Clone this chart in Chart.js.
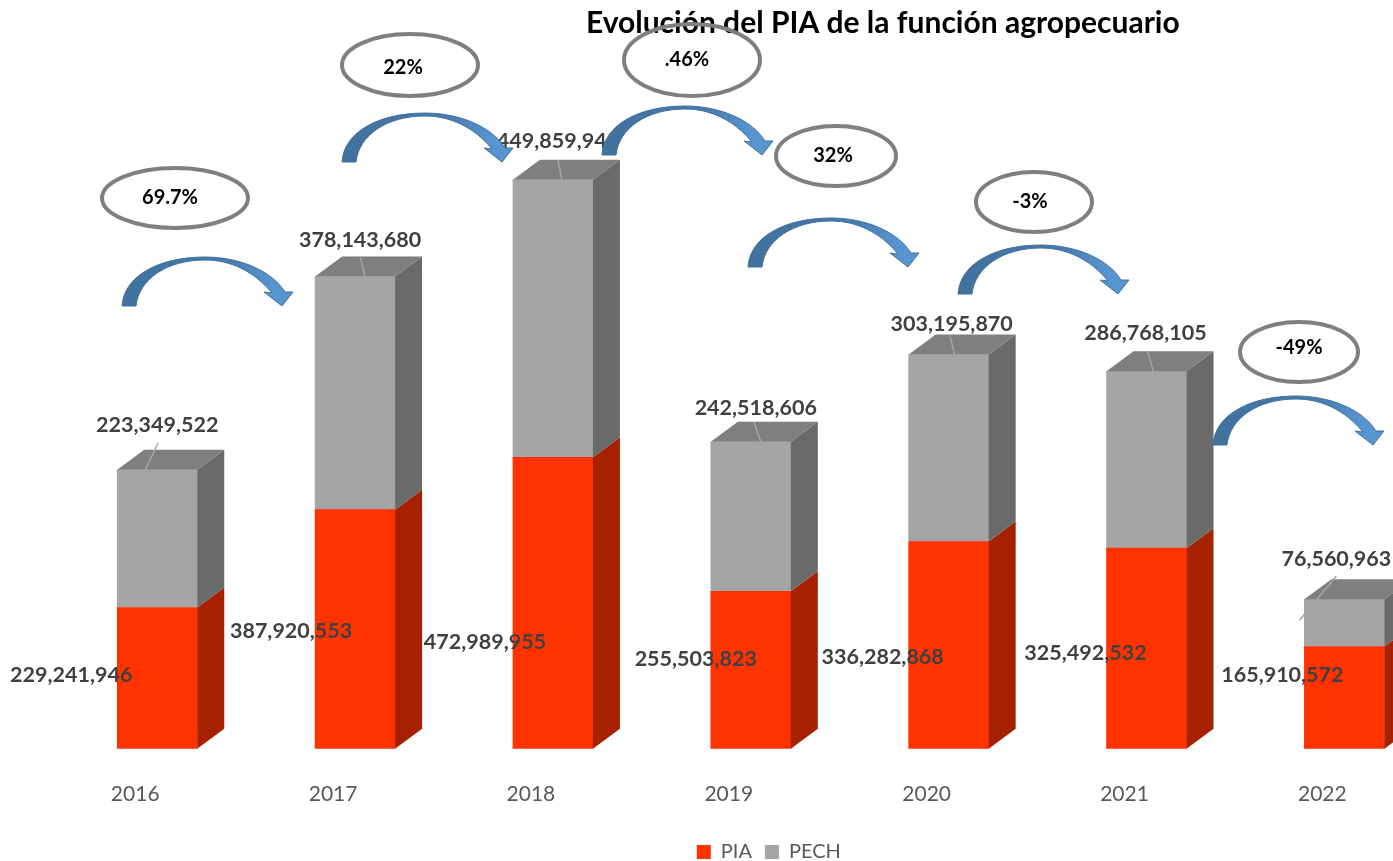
<!DOCTYPE html>
<html>
<head>
<meta charset="utf-8">
<title>Evolución del PIA de la función agropecuario</title>
<script src="https://cdn.jsdelivr.net/npm/chart.js@4"></script>
<style>
html,body{margin:0;padding:0;background:#fff;overflow:hidden;width:1393px;height:861px}
canvas{display:block}
</style>
</head>
<body>
<canvas id="chart" width="1536" height="861"></canvas>
<script>
var years=["2016","2017","2018","2019","2020","2021","2022"]
var pia=[229241946,387920553,472989955,255503823,336282868,325492532,165910572]
var pech=[223349522,378143680,449859945,242518606,303195870,286768105,76560963]
var changes=["69.7%","22%",".46%","32%","-3%","-49%"]

// where the labels sit, relative to the bar they belong to
var piaLabelDx=[-86,-64,-68,-55,-66,-61,-62]
var piaLabelY=[675,631,642,659,657,653,675]
var pechLabelDx=[0,5,5,5,3,-1,-8]
var pechLabelDy=[-45,-36,-39,-34,-31,-38,-40]
var leaderFrom=[[-12,0],[10,0],[9,0],[10,0],[6,0],[7,0],[-45,21]]
var leaderTo=[[1,-27],[5,-20],[5,-20],[3,-20],[1,-20],[1,-20],[-8,-23]]

// ellipses and arrows between the bars: cx,cy,rx,ry of ellipse, text x,y, arrow left,top
var ovals=[
    [175,198,73,30,170,198],
    [410,65,68,31,403,68],
    [692,60,68,36,687,60],
    [836,156,60,30,833,156],
    [1034,202,58,30,1030,202],
    [1299,352,59,30,1299,348]
]
var arrows=[[122,257],[342,113],[602,106],[748,218],[958,245],[1213,396]]

var depthX=27
var depthY=20

function face(ctx,points,color){
    ctx.fillStyle=color
    ctx.beginPath()
    ctx.moveTo(points[0][0],points[0][1])
    for(var i=1;i<points.length;i++){
        ctx.lineTo(points[i][0],points[i][1])
    }
    ctx.closePath()
    ctx.fill()
}

function drawArrow(ctx,x,y){
    ctx.save()
    ctx.translate(x,y)
    var grad=ctx.createLinearGradient(0,0,170,0)
    grad.addColorStop(0,"#41719c")
    grad.addColorStop(0.6,"#4679ad")
    grad.addColorStop(0.88,"#5795d0")
    ctx.fillStyle=grad
    ctx.strokeStyle="#41719c"
    ctx.lineWidth=1
    ctx.beginPath()
    ctx.moveTo(0,49)
    ctx.bezierCurveTo(2,18,38,0,83,0)
    ctx.bezierCurveTo(118,0,150,14,163,35)
    ctx.lineTo(171,35)
    ctx.lineTo(160,49)
    ctx.lineTo(142,35)
    ctx.lineTo(150,36)
    ctx.bezierCurveTo(132,14,108,3,83,3)
    ctx.bezierCurveTo(45,3,17,22,14,49)
    ctx.closePath()
    ctx.fill()
    ctx.stroke()
    ctx.restore()
}

var boxes={
    id:"boxes",
    afterLayout:function(chart){
        // title and legend are not centred on the bars in the original
        chart.titleBlock.left+=132
        chart.titleBlock.right+=132
        chart.legend.left+=18
        chart.legend.right+=18
        chart.legend.top-=3
        chart.legend.bottom-=3
    },
    afterDatasetsDraw:function(chart){
        var ctx=chart.ctx
        var sides=["#a52100","#6a6a6a"]
        chart.data.datasets.forEach(function(ds,d){
            var bars=chart.getDatasetMeta(d).data
            bars.forEach(function(bar){
                var r=bar.x+bar.width/2
                var l=bar.x-bar.width/2
                face(ctx,[[r,bar.y],[r+depthX,bar.y-depthY],[r+depthX,bar.base-depthY],[r,bar.base]],sides[d])
                if(d==1){
                    face(ctx,[[l,bar.y],[l+depthX,bar.y-depthY],[r+depthX,bar.y-depthY],[r,bar.y]],"#7f7f7f")
                }
            })
        })

        var piaBars=chart.getDatasetMeta(0).data
        var pechBars=chart.getDatasetMeta(1).data
        ctx.textAlign="center"
        ctx.textBaseline="middle"
        ctx.font="bold 21.5px Lato"
        ctx.fillStyle="#404040"
        pechBars.forEach(function(bar,i){
            ctx.strokeStyle="#a6a6a6"
            ctx.lineWidth=1.5
            ctx.beginPath()
            ctx.moveTo(bar.x+leaderFrom[i][0],bar.y+leaderFrom[i][1])
            ctx.lineTo(bar.x+leaderTo[i][0],bar.y+leaderTo[i][1])
            ctx.stroke()
            ctx.fillText(pech[i].toLocaleString("en-US"),bar.x+pechLabelDx[i],bar.y+pechLabelDy[i])
        })
        piaBars.forEach(function(bar,i){
            ctx.fillText(pia[i].toLocaleString("en-US"),bar.x+piaLabelDx[i],piaLabelY[i])
        })

        arrows.forEach(function(a){
            drawArrow(ctx,a[0],a[1])
        })

        ovals.forEach(function(o,i){
            ctx.strokeStyle="#7f7f7f"
            ctx.lineWidth=4
            ctx.beginPath()
            ctx.ellipse(o[0],o[1],o[2],o[3],0,0,Math.PI*2)
            ctx.stroke()
            ctx.fillStyle="#000"
            ctx.font="bold 20px Lato"
            ctx.fillText(changes[i],o[4],o[5])
        })
    }
}

var mychart=document.getElementById("chart").getContext("2d")
var chart=new Chart(mychart,{
    type:"bar",
    data:{
        labels:years,
        datasets:[
            {label:"PIA",data:pia,backgroundColor:"#ff3300",barThickness:80},
            {label:"PECH",data:pech,backgroundColor:"#a5a5a5",barThickness:80}
        ]
    },
    options:{
        responsive:false,
        animation:false,
        layout:{padding:{left:58.3,right:92.7,top:0,bottom:-14}},
        plugins:{
            tooltip:{enabled:false},
            title:{
                display:true,
                text:"Evolución del PIA de la función agropecuario",
                color:"#000",
                font:{family:"Lato",size:30,weight:"bold"},
                padding:{top:5,bottom:5}
            },
            legend:{
                position:"bottom",
                labels:{
                    boxWidth:14,
                    boxHeight:14,
                    padding:13,
                    color:"#595959",
                    font:{family:"Lato",size:20}
                }
            }
        },
        scales:{
            x:{
                stacked:true,
                grid:{display:false},
                border:{display:false},
                ticks:{color:"#595959",font:{family:"Lato",size:21},padding:25,labelOffset:-22}
            },
            y:{
                stacked:true,
                display:false,
                min:0,
                max:1140000000
            }
        }
    },
    plugins:[boxes]
})
</script>
</body>
</html>
